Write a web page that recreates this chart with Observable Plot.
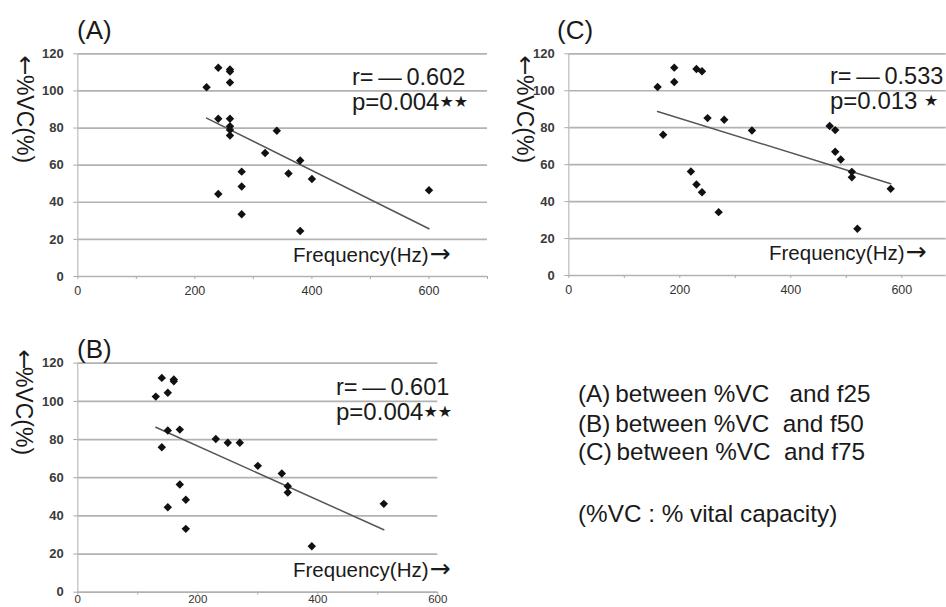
<!DOCTYPE html>
<html>
<head>
<meta charset="utf-8">
<script src="https://cdn.jsdelivr.net/npm/d3@7"></script>
<script src="https://cdn.jsdelivr.net/npm/@observablehq/plot@0.6"></script>
<style>
  html, body { margin: 0; padding: 0; background: #fff; }
  #root { position: relative; width: 946px; height: 607px; overflow: hidden; background: #fff;
          font-family: "Liberation Sans", Arial, sans-serif; }
  .panel { position: absolute; }
  #overlay { position: absolute; left: 0; top: 0; pointer-events: none; }
  #overlay text { font-family: "Liberation Sans", Arial, sans-serif; fill: #1a1a1a; }
</style>
</head>
<body>
<div id="root">
  <div id="pA" class="panel" style="left:0px;top:0px"></div>
  <div id="pC" class="panel" style="left:490px;top:0px"></div>
  <div id="pB" class="panel" style="left:0px;top:300px"></div>
  <svg id="overlay" width="946" height="607"></svg>
</div>
<script>
// ---- Data ----
// (A) %VC vs f25 (Hz)
const f25  = [220, 240, 260, 260, 260, 240, 260, 260, 260, 260, 340, 320, 380, 360, 280, 400, 280, 240, 280, 380, 600];
const vcA  = [102, 112.5, 111.5, 110.5, 104.5, 85, 85, 81, 79, 76, 78.5, 66.5, 62.5, 55.5, 56.5, 52.5, 48.5, 44.5, 33.5, 24.5, 46.5];
// (B) %VC vs f50 (Hz)
const f50  = [130, 140, 150, 160, 160, 150, 170, 140, 230, 250, 270, 300, 340, 350, 350, 170, 180, 150, 180, 390, 510];
const vcB  = [102.5, 112.3, 104.5, 111.5, 110.5, 84.7, 85.2, 76, 80.3, 78.3, 78.3, 66.2, 62.2, 55.5, 52.2, 56.4, 48.4, 44.5, 33.2, 24.1, 46.3];
// (C) %VC vs f75 (Hz)
const f75  = [160, 190, 190, 230, 240, 170, 250, 280, 330, 220, 230, 240, 270, 470, 480, 480, 490, 510, 510, 580, 520];
const vcC  = [102, 112.5, 104.7, 111.8, 110.6, 76.2, 85.2, 84.3, 78.5, 56.3, 49.3, 45.1, 34.3, 80.9, 78.7, 67, 62.8, 56.1, 53.2, 46.9, 25.3];

const yTicks = [0, 20, 40, 60, 80, 100, 120];
const xTicksA = [0, 100, 200, 300, 400, 500, 600, 700];
const xTicksB = [0, 100, 200, 300, 400, 500, 600];
const xTicksC = [0, 100, 200, 300, 400, 500, 600];

const stats = {
  A: {r: "r=\u2009\u2014\u20090.602", p: "p=0.004", stars: "\u2605\u2605"},
  B: {r: "r=\u2009\u2014\u20090.601", p: "p=0.004", stars: "\u2605\u2605"},
  C: {r: "r=\u2009\u2014\u20090.533", p: "p=0.013 ", stars: "\u2605"}
};
const axisTitleY = "%VC(%)";
const axisArrowY = "\u2191";
const axisTitleX = "Frequency(Hz)";
const axisArrowX = "\u2192";
const legendLines = [
  "(A)\u2009between %VC \u00a0 and f25",
  "(B)\u2009between %VC \u00a0and f50",
  "(C)\u2009between %VC \u00a0and f75",
  "(%VC : % vital capacity)"
];

const toRows = (xs, ys) => xs.map((f, i) => ({f, vc: ys[i]}));

function panel({rows, xMax, xTicks, width, height, ml, mr, mt, mb, xPad, xFont}) {
  return Plot.plot({
    width, height,
    marginLeft: ml, marginRight: mr, marginTop: mt, marginBottom: mb,
    x: {domain: [0, xMax]},
    y: {domain: [0, 120]},
    style: {fontFamily: "Liberation Sans, Arial, sans-serif", fontSize: "12px", overflow: "visible", background: "transparent"},
    marks: [
      Plot.gridY(yTicks.filter(d => d > 0), {stroke: "#b2b2b2", strokeOpacity: 1, strokeWidth: 1.7}),
      Plot.ruleY([0], {stroke: "#b2b2b2", strokeWidth: 1.7}),
      Plot.ruleX([0], {stroke: "#c0c0c0", strokeWidth: 1.3}),
      Plot.axisY(yTicks, {tickSize: 4, tickPadding: 10, stroke: "#aaa", fill: "#3a3a3a", fontWeight: "bold", fontSize: 13, label: null}),
      Plot.axisX(xTicks, {tickSize: 3, tickPadding: xPad, stroke: "#aaa", fill: "#333", fontSize: xFont,
                          tickFormat: d => (d % 200 === 0 ? String(d) : ""), label: null}),
      Plot.linearRegressionY(rows, {x: "f", y: "vc", ci: 0, stroke: "#555", strokeWidth: 1.5}),
      Plot.dot(rows, {x: "f", y: "vc", symbol: "diamond2", r: 3.8, fill: "#111", stroke: null})
    ]
  });
}

document.getElementById("pA").append(panel({rows: toRows(f25, vcA), xMax: 700, xTicks: xTicksA,
  width: 490, height: 300, ml: 77.3, mr: 3, mt: 53.3, mb: 24, xPad: 7, xFont: 12.5}));
document.getElementById("pC").append(panel({rows: toRows(f75, vcC), xMax: 680, xTicks: xTicksC,
  width: 456, height: 300, ml: 78.3, mr: 0.3, mt: 53.3, mb: 25, xPad: 7, xFont: 12.5}));
document.getElementById("pB").append(panel({rows: toRows(f50, vcB), xMax: 600, xTicks: xTicksB,
  width: 490, height: 307, ml: 77.3, mr: 52.7, mt: 62.7, mb: 15.3, xPad: 0, xFont: 11.5}));

// ---- Text overlay ----
const svg = d3.select("#overlay");
function txt(x, y, s, size, opts = {}) {
  const t = svg.append("text").attr("x", x).attr("y", y).style("font-size", size + "px").text(s);
  if (opts.anchor) t.attr("text-anchor", opts.anchor);
  return t;
}
// panel letters
txt(77, 39, "(A)", 26);
txt(557, 39, "(C)", 26);
txt(77, 358, "(B)", 26);
// statistics
function stat(x, y, s) {
  txt(x, y, s.r, 23.5);
  const t = txt(x, y + 25, s.p, 24);
  t.append("tspan").attr("dy", -3).style("font-size", "16px").style("font-family", "DejaVu Sans").text(s.stars);
}
stat(352, 85, stats.A);
stat(830, 84, stats.C);
stat(336, 395, stats.B);
// x axis titles
function xTitle(x, y) {
  const t = txt(x, y, axisTitleX, 20.5);
  t.append("tspan").attr("dx", 1).style("font-family", "DejaVu Sans").style("font-size", "25px").text(axisArrowX);
}
xTitle(293, 262);
xTitle(769, 260);
xTitle(293, 577);
// y axis titles: upright arrow on top, text rotated clockwise below it
[[25, 74, 119], [525, 74, 119], [24, 368, 411]].forEach(([x, ay, cy]) => {
  svg.append("text").attr("x", x).attr("y", ay).attr("text-anchor", "middle")
    .style("font-family", "DejaVu Sans").style("font-size", "24px").text(axisArrowY);
  svg.append("text").attr("transform", `translate(${x},${cy}) rotate(90)`)
    .attr("text-anchor", "middle").attr("dominant-baseline", "central")
    .style("font-size", "23px").text(axisTitleY);
});
// legend text
const legendY = [402, 431.5, 460, 521.5];
legendLines.forEach((s, i) => txt(578, legendY[i], s, 24.3).style("white-space", "pre"));
</script>
</body>
</html>
